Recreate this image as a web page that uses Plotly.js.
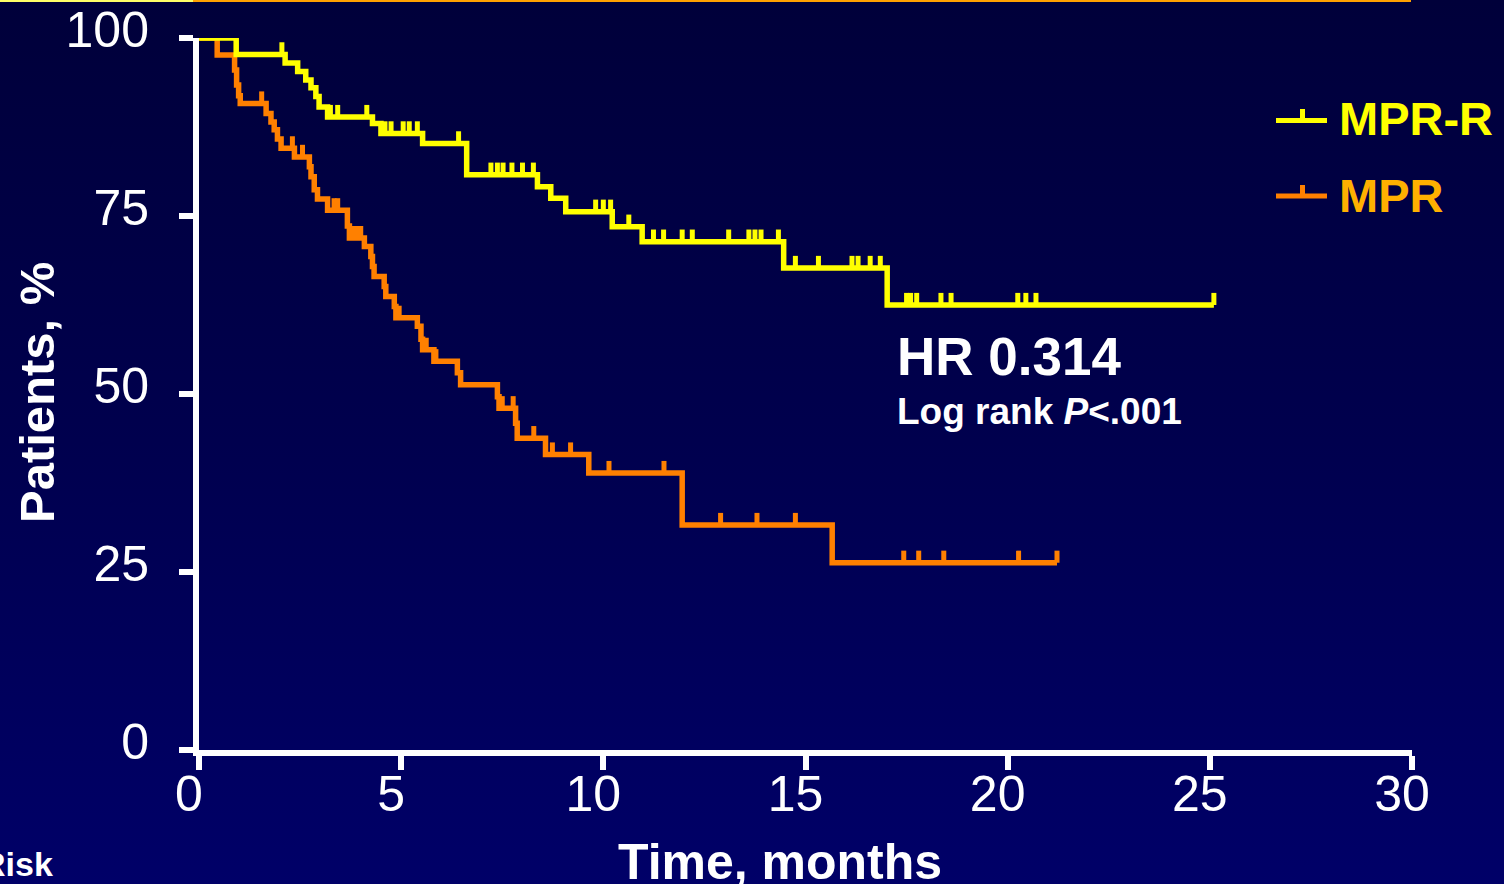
<!DOCTYPE html>
<html>
<head>
<meta charset="utf-8">
<script src="https://cdn.plot.ly/plotly-3.0.1.min.js"></script>
<style>
  html, body { margin: 0; padding: 0; }
  body { width: 1504px; height: 884px; overflow: hidden;
         background: linear-gradient(to bottom, #00003a 0%, #00004e 50%, #000068 100%); }
  #chart { width: 1504px; height: 884px; }
</style>
</head>
<body>
<div id="chart"></div>
<script>
// ---- Data (Kaplan–Meier steps) ----
const mprrTimes  = [0, 0.92, 2.13, 2.44, 2.64, 2.77, 2.89, 2.97, 3.18, 4.29, 4.50, 5.53, 6.62, 8.37, 8.70, 9.07, 10.22, 10.96, 14.46, 17.02];
const mprrValues = [100, 97.7, 96.5, 95.3, 94.1, 93.0, 91.8, 90.3, 88.9, 88.0, 86.6, 85.2, 80.8, 79.1, 77.5, 75.6, 73.5, 71.4, 67.7, 62.5];
const mprrEnd = 25.1;
const mprrCensored = [2.05, 3.25, 3.43, 4.15, 4.6, 4.75, 5.05, 5.2, 5.4, 6.42, 7.22, 7.38, 7.52, 7.74, 8.0, 8.27,
                      9.81, 10.0, 10.18, 10.63, 11.24, 11.49, 11.95, 12.2, 13.1, 13.6, 13.75, 13.9, 14.33,
                      14.75, 15.32, 16.15, 16.3, 16.6, 16.85, 17.5, 17.6, 17.75, 18.35, 18.6, 20.25, 20.45, 20.7, 25.1];

const mprTimes  = [0, 0.45, 0.88, 0.93, 0.98, 1.02, 1.66, 1.78, 1.86, 1.94, 2.03, 2.36, 2.73, 2.77, 2.85, 2.93, 3.18, 3.67, 3.72,
                   4.09, 4.25, 4.29, 4.33, 4.58, 4.62, 4.83, 4.87, 5.40, 5.49, 5.53, 5.81, 6.39, 6.47, 7.38, 7.42, 7.83, 7.87,
                   8.57, 9.64, 11.95, 15.66];
const mprValues = [100, 97.6, 95.5, 93.4, 91.9, 90.8, 89.4, 88.2, 87.1, 85.8, 84.5, 83.3, 81.9, 80.5, 78.7, 77.4, 75.8, 73.6, 71.9,
                   70.7, 69.3, 67.9, 66.5, 65.1, 63.7, 62.3, 60.7, 59.5, 57.7, 56.2, 54.6, 53.0, 51.3, 49.6, 48.0, 45.9, 43.8,
                   41.5, 38.9, 31.6, 26.3];
const mprEnd = 21.22;
const mprCensored = [0.05, 0.22, 1.55, 2.31, 2.56, 3.34, 3.43, 3.8, 3.92, 4.0, 4.95, 5.62, 5.86, 7.5, 7.77, 8.28, 8.74, 9.19,
                     10.14, 11.5, 12.9, 13.8, 14.75, 17.43, 17.8, 18.42, 20.27, 21.22];

const xTicks = [0, 5, 10, 15, 20, 25, 30];
const yTicks = [0, 25, 50, 75, 100];
const seriesNames = ['MPR-R', 'MPR'];

// ---- Styling ----
const YELLOW = '#ffff00';
const ORANGE = '#ff8000';
const ORANGE_TEXT = '#ffb000';
const FONT = '"Liberation Sans", Arial, Helvetica, sans-serif';
const TICK_UP = 1.7; // censor tick height in y-units

function survAt(times, vals, t) {
  let v = vals[0];
  for (let i = 0; i < times.length; i++) { if (times[i] <= t) v = vals[i]; }
  return v;
}

function stepTrace(times, vals, end, color) {
  return {
    x: times.concat([end]), y: vals.concat([vals[vals.length - 1]]),
    type: 'scatter', mode: 'lines', line: {shape: 'hv', color: color, width: 5.5},
    showlegend: false, hoverinfo: 'skip'
  };
}
function censorTrace(ct, times, vals, color) {
  return {
    x: ct, y: ct.map(t => survAt(times, vals, t)),
    type: 'scatter', mode: 'markers', marker: {size: 1, color: color, opacity: 0},
    error_y: {type: 'data', symmetric: false, array: ct.map(() => TICK_UP), arrayminus: ct.map(() => 0),
              color: color, thickness: 5, width: 0},
    showlegend: false, hoverinfo: 'skip'
  };
}

const traces = [
  stepTrace(mprTimes, mprValues, mprEnd, ORANGE),
  censorTrace(mprCensored, mprTimes, mprValues, ORANGE),
  stepTrace(mprrTimes, mprrValues, mprrEnd, YELLOW),
  censorTrace(mprrCensored, mprrTimes, mprrValues, YELLOW)
];

// pixel -> paper helpers (plot area: x 199..1412, y 38..750)
const L = 199, R = 1412, T = 38, B = 750;
const px = v => (v - L) / (R - L);
const py = v => (B - v) / (B - T);

const shapes = [
  // top separator line
  {type: 'line', xref: 'paper', yref: 'paper', x0: px(0), x1: px(193), y0: py(1), y1: py(1), line: {color: '#ffff66', width: 2}},
  {type: 'line', xref: 'paper', yref: 'paper', x0: px(193), x1: px(1411), y0: py(1), y1: py(1), line: {color: '#ffa000', width: 2}},
  // legend symbols
  {type: 'line', xref: 'paper', yref: 'paper', x0: px(1276), x1: px(1327), y0: py(120.5), y1: py(120.5), line: {color: YELLOW, width: 5}},
  {type: 'line', xref: 'paper', yref: 'paper', x0: px(1302.5), x1: px(1302.5), y0: py(120.5), y1: py(109), line: {color: YELLOW, width: 5}},
  {type: 'line', xref: 'paper', yref: 'paper', x0: px(1276), x1: px(1327), y0: py(196), y1: py(196), line: {color: ORANGE, width: 5}},
  {type: 'line', xref: 'paper', yref: 'paper', x0: px(1302.5), x1: px(1302.5), y0: py(196), y1: py(185), line: {color: ORANGE, width: 5}}
];

const annotations = [
  {text: '<b>' + seriesNames[0] + '</b>', xref: 'paper', yref: 'paper', x: px(1337), y: py(118), xanchor: 'left', yanchor: 'middle',
   showarrow: false, font: {family: FONT, size: 47, color: YELLOW}},
  {text: '<b>' + seriesNames[1] + '</b>', xref: 'paper', yref: 'paper', x: px(1337), y: py(195), xanchor: 'left', yanchor: 'middle',
   showarrow: false, font: {family: FONT, size: 47, color: ORANGE_TEXT}},
  {text: '<b>HR 0.314</b>', xref: 'paper', yref: 'paper', x: px(895), y: py(356), xanchor: 'left', yanchor: 'middle',
   showarrow: false, font: {family: FONT, size: 53, color: '#ffffff'}},
  {text: '<b>Log rank <i>P</i>&lt;.001</b>', xref: 'paper', yref: 'paper', x: px(895), y: py(411), xanchor: 'left', yanchor: 'middle',
   showarrow: false, font: {family: FONT, size: 37, color: '#ffffff'}},
  {text: '<b>Time, months</b>', xref: 'paper', yref: 'paper', x: px(780), y: py(862), xanchor: 'center', yanchor: 'middle',
   showarrow: false, font: {family: FONT, size: 50, color: '#ffffff'}},
  {text: '<b>Patients, %</b>', xref: 'paper', yref: 'paper', x: px(37), y: py(393), xanchor: 'center', yanchor: 'middle',
   textangle: -90, showarrow: false, font: {family: FONT, size: 49, color: '#ffffff'}},
  {text: '<b>Risk</b>', xref: 'paper', yref: 'paper', x: px(55), y: py(864), xanchor: 'right', yanchor: 'middle',
   showarrow: false, font: {family: FONT, size: 34, color: '#ffffff'}}
];

const layout = {
  width: 1504, height: 884,
  margin: {l: L, r: 1504 - R, t: T, b: 884 - B, pad: 0},
  paper_bgcolor: 'rgba(0,0,0,0)', plot_bgcolor: 'rgba(0,0,0,0)',
  showlegend: false,
  font: {family: FONT, color: '#ffffff'},
  xaxis: {
    range: [0, 30], tickvals: xTicks, ticktext: xTicks.map(String),
    showgrid: false, zeroline: false, showline: true, linecolor: '#ffffff', linewidth: 6,
    ticks: 'outside', ticklen: 14, tickwidth: 6, tickcolor: '#ffffff',
    tickfont: {family: FONT, size: 50, color: '#ffffff'}, ticklabelshift: -10, ticklabelstandoff: -19,
    fixedrange: true
  },
  yaxis: {
    range: [0, 100], tickvals: yTicks, ticktext: yTicks.map(String),
    showgrid: false, zeroline: false, showline: true, linecolor: '#ffffff', linewidth: 6,
    ticks: 'outside', ticklen: 14, tickwidth: 6, tickcolor: '#ffffff',
    tickfont: {family: FONT, size: 50, color: '#ffffff'}, ticklabelstandoff: 20, ticklabelshift: -9,
    fixedrange: true
  },
  shapes: shapes,
  annotations: annotations
};

Plotly.newPlot('chart', traces, layout, {displayModeBar: false, staticPlot: true});
</script>
</body>
</html>
